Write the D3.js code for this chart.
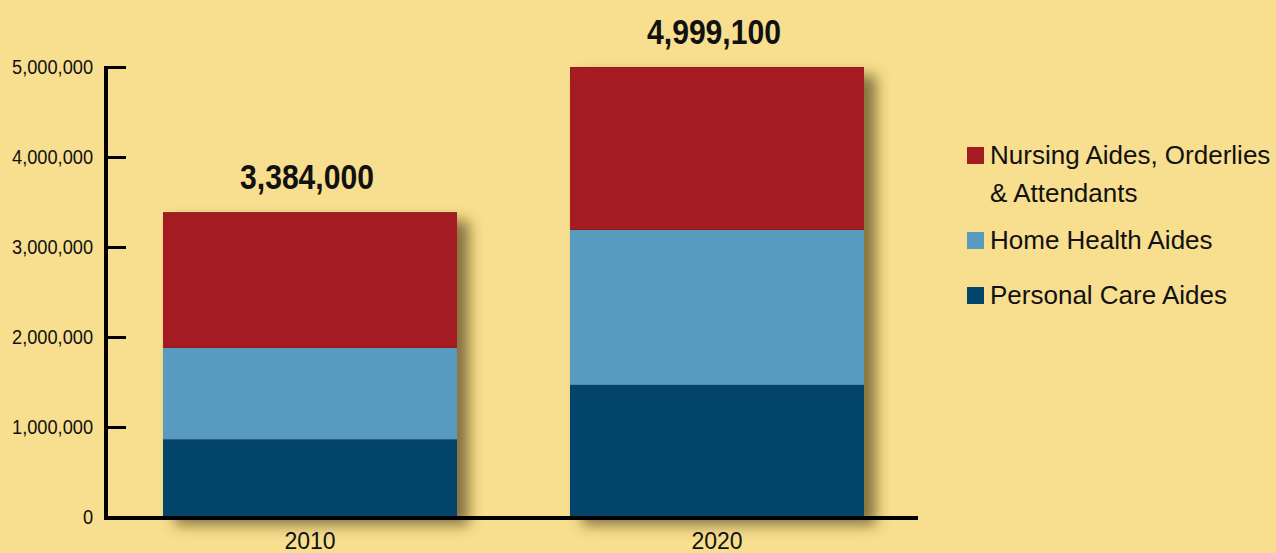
<!DOCTYPE html>
<html><head><meta charset="utf-8">
<script src="https://cdn.jsdelivr.net/npm/d3@7"></script>
<style>
html,body{margin:0;padding:0;background:#F8DE8F;}
svg{display:block;}
text{font-family:"Liberation Sans","Arial",sans-serif;fill:#111;}
</style></head>
<body>
<svg id="chart" width="1276" height="553"></svg>
<script>
const years = ["2010", "2020"];
const seriesNames = ["Personal Care Aides", "Home Health Aides", "Nursing Aides, Orderlies & Attendants"];
const personalCare = [861000, 1468000];
const homeHealth = [1017700, 1723900];
const nursingAides = [1505300, 1807200];
const totals = [3384000, 4999100];
const yTicks = [0, 1000000, 2000000, 3000000, 4000000, 5000000];
const colors = ["#03446B", "#589BBF", "#A51B22"];

const svg = d3.select("#chart");
const defs = svg.append("defs");
const f = defs.append("filter").attr("id","shadow").attr("x","-20%").attr("y","-20%").attr("width","150%").attr("height","150%");
f.append("feDropShadow").attr("dx",12).attr("dy",8).attr("stdDeviation",7).attr("flood-color","#4a3a10").attr("flood-opacity",0.65);

function condense(sel, factor){
  sel.each(function(){
    const w = this.getComputedTextLength();
    d3.select(this).attr("textLength", w*factor).attr("lengthAdjust","spacingAndGlyphs");
  });
}

const y = d3.scaleLinear().domain([0, 5000000]).range([517, 67]);
const x = d3.scaleBand().domain(years).range([105, 922]).paddingInner(0.2776).paddingOuter(0.1425);

const data = years.map((yr,i)=>({year:yr, "Personal Care Aides":personalCare[i], "Home Health Aides":homeHealth[i], "Nursing Aides, Orderlies & Attendants":nursingAides[i]}));
const stack = d3.stack().keys(seriesNames)(data);

// shadow boxes
svg.append("g").selectAll("rect").data(years).join("rect")
  .attr("x", d=>x(d)).attr("width", x.bandwidth())
  .attr("y", (d,i)=>y(totals[i])).attr("height",(d,i)=>y(0)-y(totals[i]))
  .attr("fill","#000").attr("filter","url(#shadow)");

svg.append("g").selectAll("g").data(stack).join("g")
  .attr("fill",(d,i)=>colors[i])
  .selectAll("rect").data(d=>d).join("rect")
  .attr("x", d=>x(d.data.year)).attr("width", x.bandwidth())
  .attr("y", d=>y(d[1])).attr("height", d=>y(d[0])-y(d[1]));

// totals
const tt = svg.append("g").selectAll("text").data(years).join("text")
  .attr("x", d=>x(d)+x.bandwidth()/2 - 3)
  .attr("y", (d,i)=>y(totals[i]) - 23)
  .attr("text-anchor","middle")
  .attr("font-weight","bold").attr("font-size",35)
  .text((d,i)=>d3.format(",")(totals[i]));
condense(tt, 0.86);

// y axis
const yAxis = d3.axisRight(y).tickValues(yTicks).tickSize(20).tickFormat(d3.format(","));
const gy = svg.append("g").attr("transform","translate(106,0)").call(yAxis);
gy.select(".domain").remove();
gy.selectAll(".tick line").attr("stroke","#000").attr("stroke-width",3);
const ytxt = gy.selectAll(".tick text").attr("x",-13).attr("text-anchor","end").attr("dy","0.34em")
  .attr("font-size",20).attr("fill","#111").style("font-family",'"Liberation Sans",Arial,sans-serif');
condense(ytxt, 0.91);
svg.append("line").attr("x1",106).attr("x2",106).attr("y1",y(5000000)-1).attr("y2",y(0)+2).attr("stroke","#000").attr("stroke-width",4);

// x axis
const xAxis = d3.axisBottom(x).tickSize(0);
const gx = svg.append("g").attr("transform","translate(0,517)").call(xAxis);
gx.select(".domain").remove();
gx.selectAll(".tick text").attr("dy",0).attr("y",32).attr("font-size",23).attr("fill","#111")
  .style("font-family",'"Liberation Sans",Arial,sans-serif');
svg.append("line").attr("x1",104).attr("x2",918).attr("y1",518).attr("y2",518).attr("stroke","#000").attr("stroke-width",4);

// legend
const legendItems = [
  {name:seriesNames[2], lines:["Nursing Aides, Orderlies","& Attendants"], color:colors[2], sy:147},
  {name:seriesNames[1], lines:["Home Health Aides"], color:colors[1], sy:232},
  {name:seriesNames[0], lines:["Personal Care Aides"], color:colors[0], sy:287}
];
const lg = svg.append("g");
legendItems.forEach(it=>{
  lg.append("rect").attr("x",967).attr("y",it.sy).attr("width",17).attr("height",17).attr("fill",it.color);
  const t = lg.append("text").attr("x",990).attr("y",it.sy+17).attr("font-size",26);
  it.lines.forEach((l,k)=>t.append("tspan").attr("x",990).attr("dy",k===0?0:38).text(l));
});
</script>
</body></html>
